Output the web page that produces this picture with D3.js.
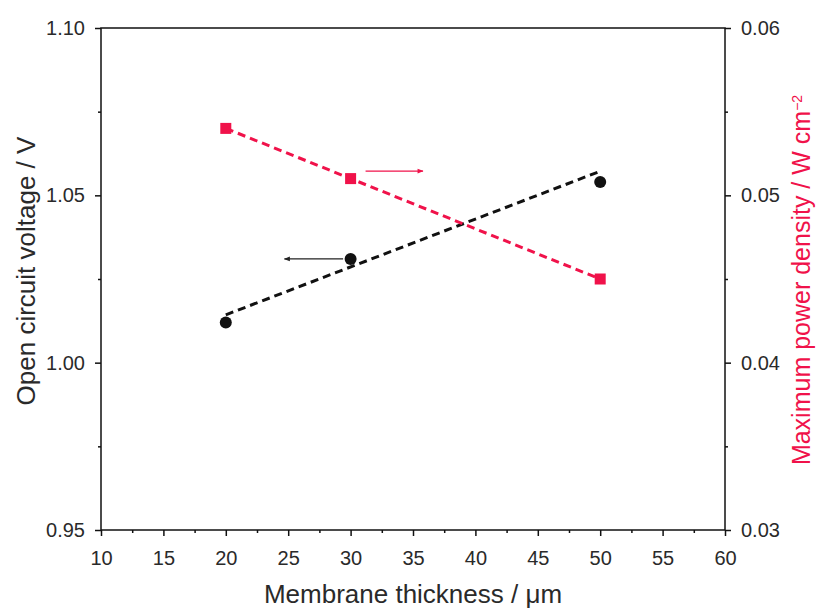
<!DOCTYPE html>
<html><head><meta charset="utf-8">
<script src="https://cdn.jsdelivr.net/npm/d3@7"></script>
<style>body{margin:0;background:#fff}svg{display:block}text{font-family:"Liberation Sans",Arial,sans-serif}</style>
</head><body><svg id="c" width="818" height="610"></svg>
<script>
const thickness = [20, 30, 50];
const ocv = [1.012, 1.031, 1.054];
const power = [0.054, 0.051, 0.045];
const ocvFit = [[20, 1.0143], [50, 1.0572]];
const powerFit = [[20, 0.0540], [50, 0.0450]];
const xTicks = [10, 15, 20, 25, 30, 35, 40, 45, 50, 55, 60];
const yLeftTicks = [0.95, 1.00, 1.05, 1.10];
const yRightTicks = [0.03, 0.04, 0.05, 0.06];
const arrowLeft = {y: 1.031, x0: 29.4, x1: 24.7};
const arrowRight = {y: 0.05145, x0: 31.2, x1: 35.8};

const RED = "#f0124a";
const TXT = "#2a2a2a";
const svg = d3.select("#c");
const L = 101, R = 725, T = 28, B = 530;
const x = d3.scaleLinear().domain([10, 60]).range([L, R]);
const yl = d3.scaleLinear().domain([0.95, 1.10]).range([B, T]);
const yr = d3.scaleLinear().domain([0.03, 0.06]).range([B, T]);

const defs = svg.append("defs");
function marker(id, color) {
  defs.append("marker").attr("id", id).attr("viewBox", "0 0 10 10").attr("refX", 9).attr("refY", 5)
    .attr("markerWidth", 8).attr("markerHeight", 6).attr("orient", "auto").attr("markerUnits", "userSpaceOnUse")
    .append("path").attr("d", "M0,1 L10,5 L0,9 Z").attr("fill", color);
}
marker("ab", "#222"); marker("ar", RED);

// frame
svg.append("rect").attr("x", L).attr("y", T).attr("width", R - L).attr("height", B - T)
  .attr("fill", "none").attr("stroke", "#111").attr("stroke-width", 1.5);

// axes
const fs = "20px";
const xAx = svg.append("g").attr("transform", `translate(0,${B})`)
  .call(d3.axisBottom(x).tickValues(xTicks).tickSize(6).tickFormat(d3.format("d")));
const xMinor = svg.append("g").attr("transform", `translate(0,${B})`)
  .call(d3.axisBottom(x).tickValues(d3.range(12.5, 60, 5)).tickSize(3).tickFormat(""));
const ylAx = svg.append("g").attr("transform", `translate(${L},0)`)
  .call(d3.axisLeft(yl).tickValues(yLeftTicks).tickSize(6).tickFormat(d3.format(".2f")));
const ylMinor = svg.append("g").attr("transform", `translate(${L},0)`)
  .call(d3.axisLeft(yl).tickValues([0.975, 1.025, 1.075]).tickSize(3).tickFormat(""));
const yrAx = svg.append("g").attr("transform", `translate(${R},0)`)
  .call(d3.axisRight(yr).tickValues(yRightTicks).tickSize(6).tickFormat(d3.format(".2f")));
const yrMinor = svg.append("g").attr("transform", `translate(${R},0)`)
  .call(d3.axisRight(yr).tickValues([0.035, 0.045, 0.055]).tickSize(3).tickFormat(""));
[xAx, xMinor, ylAx, ylMinor, yrAx, yrMinor].forEach(g => {
  g.select(".domain").remove();
  g.selectAll("line").attr("stroke", "#111").attr("stroke-width", 1.5);
  g.selectAll("text").attr("font-size", fs).attr("fill", TXT)
    .attr("font-family", '"Liberation Sans",Arial,sans-serif');
});
xAx.selectAll("text").attr("y", 35).attr("dy", null);
ylAx.selectAll("text").attr("x", -16);
yrAx.selectAll("text").attr("x", 16);

// titles
svg.append("text").attr("x", 413).attr("y", 603).attr("text-anchor", "middle")
  .attr("font-size", "26px").attr("fill", TXT).text("Membrane thickness / μm");
svg.append("text").attr("transform", `translate(35,271) rotate(-90)`).attr("text-anchor", "middle")
  .attr("font-size", "26px").attr("fill", TXT).text("Open circuit voltage / V");
const rt = svg.append("text").attr("transform", `translate(810,280) rotate(-90)`).attr("text-anchor", "middle")
  .attr("font-size", "25px").attr("fill", RED);
rt.append("tspan").text("Maximum power density / W cm");
rt.append("tspan").attr("dy", "-0.6em").attr("font-size", "14px").text("−2");

// fit lines
const lineL = d3.line().x(d => x(d[0])).y(d => yl(d[1]));
const lineR = d3.line().x(d => x(d[0])).y(d => yr(d[1]));
svg.append("path").attr("d", lineL(ocvFit)).attr("fill", "none").attr("stroke", "#111")
  .attr("stroke-width", 3).attr("stroke-dasharray", "8,5");
svg.append("path").attr("d", lineR(powerFit)).attr("fill", "none").attr("stroke", RED)
  .attr("stroke-width", 3).attr("stroke-dasharray", "8,5");

// markers
svg.selectAll("circle.p").data(thickness).enter().append("circle")
  .attr("cx", d => x(d)).attr("cy", (d, i) => yl(ocv[i])).attr("r", 6).attr("fill", "#111");
svg.selectAll("rect.p").data(thickness).enter().append("rect")
  .attr("x", d => x(d) - 5.5).attr("y", (d, i) => yr(power[i]) - 5.5).attr("width", 11).attr("height", 11).attr("fill", RED);

// arrows
svg.append("line").attr("x1", x(arrowLeft.x0)).attr("x2", x(arrowLeft.x1))
  .attr("y1", yl(arrowLeft.y)).attr("y2", yl(arrowLeft.y)).attr("stroke", "#222").attr("stroke-width", 1.3)
  .attr("marker-end", "url(#ab)");
svg.append("line").attr("x1", x(arrowRight.x0)).attr("x2", x(arrowRight.x1))
  .attr("y1", yr(arrowRight.y)).attr("y2", yr(arrowRight.y)).attr("stroke", RED).attr("stroke-width", 1.3)
  .attr("marker-end", "url(#ar)");
</script></body></html>
